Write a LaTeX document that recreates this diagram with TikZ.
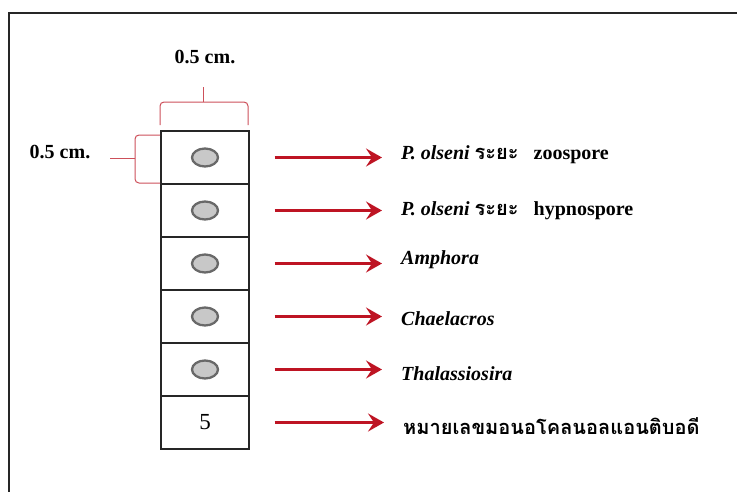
\documentclass[tikz,border=0pt]{standalone}
\usepackage{fontspec}
\setmainfont{Liberation Serif}
\newfontfamily\thaifont[Script=Thai]{Loma}
\usetikzlibrary{arrows.meta,shapes.geometric}
\definecolor{arrred}{RGB}{190,20,35}
\definecolor{bracered}{RGB}{205,80,90}
\definecolor{cellgray}{RGB}{200,200,200}
\definecolor{ringgray}{RGB}{105,105,105}
\begin{document}
\begin{tikzpicture}[x=1pt,y=-1pt,
  cell/.style={draw=black!85, line width=1.3pt, minimum width=88pt, minimum height=53pt, inner sep=0pt},
  spot/.style={ellipse, draw=ringgray, fill=cellgray, line width=2.3pt, minimum width=26pt, minimum height=18pt, inner sep=0pt},
  lab/.style={anchor=west, font=\fontsize{20}{23}\selectfont\bfseries\itshape, inner sep=0pt},
  thlab/.style={anchor=west, font=\fontsize{20}{24}\selectfont\thaifont\bfseries, inner sep=0pt},
  arr/.style={draw=arrred, line width=3pt, shorten <=25pt, shorten >=19pt, -{Stealth[length=16pt,width=18pt,inset=6pt]}},
  dimlab/.style={font=\fontsize{20}{22}\selectfont\bfseries, inner sep=0pt},
  brace/.style={draw=bracered, line width=1pt, rounded corners=4pt},
  frame/.style={draw=black!85, line width=2pt}]
\useasboundingbox (0,0) rectangle (737,491);
\draw[frame] (9,495) -- (9,13) -- (741,13);
% cells
\foreach \i/\y in {1/157.5,2/210.5,3/263.5,4/316.5,5/369.5,6/422.5}{
  \node[cell] (c\i) at (205,\y) {};
}
\foreach \i in {1,...,5}{
  \node[spot] (s\i) at (c\i) {};
}
\node[font=\fontsize{23}{25}\selectfont] (n5) at (c6) {5};
% labels
\node[lab] (l1) at (401,155) {P. olseni {\thaifont\upshape ระยะ}\hspace{0.5em} \upshape zoospore};
\node[lab] (l2) at (401,211) {P. olseni {\thaifont\upshape ระยะ}\hspace{0.5em} \upshape hypnospore};
\node[lab] (l3) at (401,260) {Amphora};
\node[lab] (l4) at (401,319) {Chaelacros};
\node[lab] (l5) at (401,374) {Thalassiosira};
\node[thlab] (l6) at (403,426) {หมายเลขมอนอโคลนอลแอนติบอดี};
% arrows
\foreach \i in {1,...,6}{
  \draw[arr] (c\i.east) -- (c\i.east -| l\i.west);
}
% dimension marks
\node[dimlab] (dtop) at (205,57) {0.5 cm.};
\node[dimlab] (dleft) at (60,152) {0.5 cm.};
\draw[brace] (160,125) -- (160,102) -- (248,102) -- (248,125);
\draw[brace] (203,102) -- (203,87);
\draw[brace] (160,135) -- (135,135) -- (135,183) -- (160,183);
\draw[brace] (135,158) -- (110,158);
\end{tikzpicture}
\end{document}
